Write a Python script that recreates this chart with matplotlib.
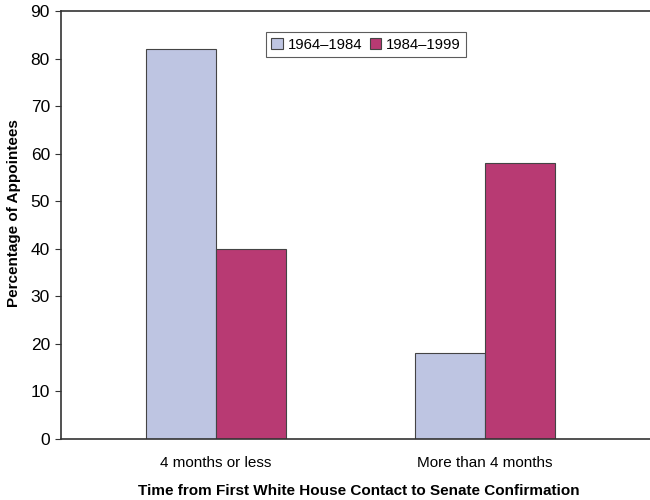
import matplotlib
matplotlib.use("Agg")
import matplotlib.pyplot as plt
import numpy as np

plt.rcParams["font.family"] = ["Liberation Sans", "DejaVu Sans"]

categories = ["4 months or less", "More than 4 months"]
periods = ["1964\u20131984", "1984\u20131999"]
early = [82, 18]
late = [40, 58]
colors = ["#bec5e2", "#b83a73"]

fig = plt.figure(figsize=(6.5, 5), dpi=100)
ax = fig.add_axes([0.094, 0.122, 0.906, 0.856])

x = np.arange(len(categories))
w = 0.26
ax.bar(x - w / 2, early, w, color=colors[0], edgecolor="#444444", linewidth=0.8, label=periods[0])
ax.bar(x + w / 2, late, w, color=colors[1], edgecolor="#444444", linewidth=0.8, label=periods[1])

ax.set_xlim(-0.576, 1.613)
ax.set_ylim(0, 90)
ax.set_yticks(range(0, 91, 10))
ax.set_xticks(x)
ax.set_xticklabels(categories, fontsize=11)
ax.tick_params(axis="y", labelsize=12.5, length=4, width=0.8, color="#333333", pad=4)
ax.tick_params(axis="x", length=0, pad=12)
ax.spines["right"].set_visible(False)
for s in ["left", "top", "bottom"]:
    ax.spines[s].set_color("#333333")
    ax.spines[s].set_linewidth(1.2)

ax.set_ylabel("Percentage of Appointees", fontsize=11, fontweight="bold")
ax.yaxis.set_label_coords(-0.068, 0.528)
ax.set_xlabel("Time from First White House Contact to Senate Confirmation",
              fontsize=11, fontweight="bold")
ax.xaxis.set_label_coords(0.505, -0.105)

leg = ax.legend(loc="upper left", bbox_to_anchor=(0.348, 0.95), ncol=2, fontsize=10.7,
                frameon=True, fancybox=False, edgecolor="#333333", handlelength=0.8,
                handleheight=0.8, handletextpad=0.3, columnspacing=0.5,
                borderpad=0.35, borderaxespad=0)
leg.get_frame().set_linewidth(0.8)

fig.savefig("out.png", dpi=100)
